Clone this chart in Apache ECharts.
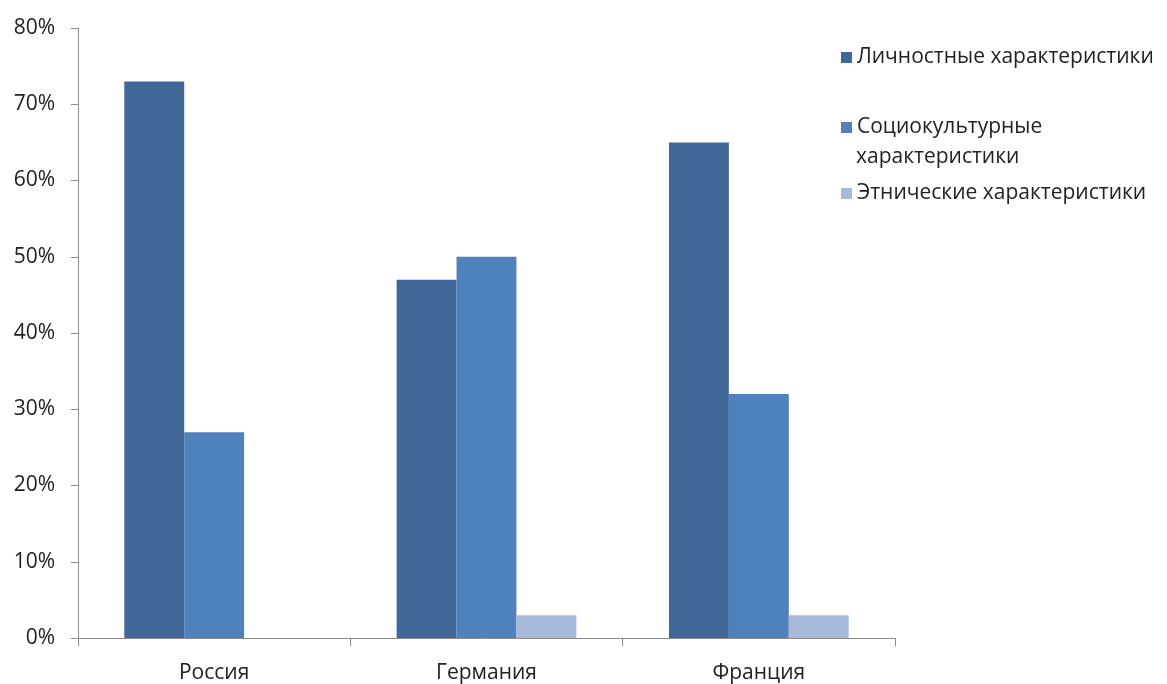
<!DOCTYPE html>
<html><head><meta charset="utf-8">
<script src="https://cdn.jsdelivr.net/npm/echarts@6/dist/echarts.min.js"></script>
<style>html,body{margin:0;padding:0;background:#fff}#c{width:1167px;height:684px}</style>
</head><body><div id="c"></div>
<script>
const categories = ['Россия', 'Германия', 'Франция'];
const seriesNames = ['Личностные характеристики', 'Социокультурные характеристики', 'Этнические характеристики'];
const personal = [73, 47, 65];
const sociocultural = [27, 50, 32];
const ethnic = [0, 3, 3];
const colors = ['#3F6899', '#4F81BD', '#A8BAD9'];
const font = 'Open Sans';
const fs = 21;

const chart = echarts.init(document.getElementById('c'));
function legendAt(i, top) {
  return {
    data: [seriesNames[i]], left: 836, top: top, orient: 'vertical',
    itemWidth: 11, itemHeight: 11, itemGap: 0, icon: 'rect',
    selectedMode: false,
    formatter: n => n === seriesNames[1] ? 'Социокультурные' : n,
    textStyle: { fontFamily: font, fontSize: fs, color: '#222', padding: [0, 0, 0, 0] }
  };
}
chart.setOption({
  animation: false,
  color: colors,
  legend: [legendAt(0, 42), legendAt(1, 112), legendAt(2, 178)],
  graphic: [{
    type: 'text', left: 856, top: 147,
    style: { text: 'характеристики', fontFamily: font, fontSize: fs, fill: '#222' }
  }],
  grid: { left: 78, right: 272, top: 28, bottom: 45, containLabel: false },
  xAxis: {
    type: 'category', data: categories,
    axisLine: { lineStyle: { color: '#8c8c8c', width: 1 } },
    axisTick: { show: true, length: 8, lineStyle: { color: '#8c8c8c' } },
    axisLabel: { fontFamily: font, fontSize: fs, color: '#222', margin: 25 }
  },
  yAxis: {
    type: 'value', min: 0, max: 80, interval: 10,
    axisLine: { show: true, lineStyle: { color: '#8c8c8c', width: 1 } },
    axisTick: { show: true, length: 7, lineStyle: { color: '#8c8c8c' } },
    splitLine: { show: false },
    axisLabel: { formatter: '{value}%', fontFamily: font, fontSize: fs, color: '#222', margin: 23 }
  },
  series: [
    { name: seriesNames[0], type: 'bar', data: personal, barGap: '0%', barCategoryGap: '34%' },
    { name: seriesNames[1], type: 'bar', data: sociocultural, barGap: '0%', barCategoryGap: '34%' },
    { name: seriesNames[2], type: 'bar', data: ethnic, barGap: '0%', barCategoryGap: '34%' }
  ]
});
</script></body></html>
